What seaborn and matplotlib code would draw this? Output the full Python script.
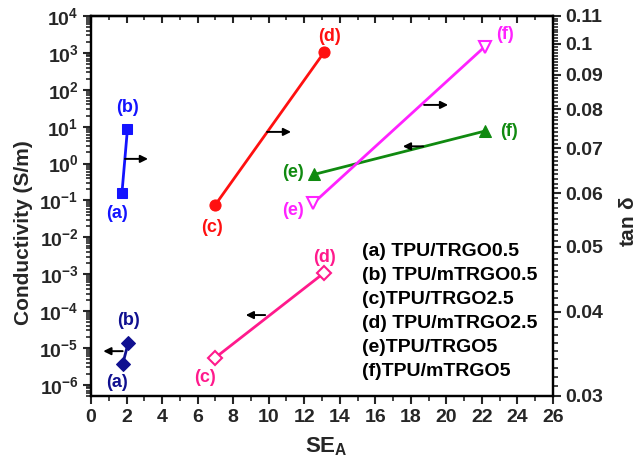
import numpy as np
import pandas as pd
import matplotlib
matplotlib.use("Agg")
import matplotlib.pyplot as plt
import matplotlib.ticker as mticker
import seaborn as sns

# ---------------- data ----------------
# tan delta series (right axis)
blue_x = [1.74, 2.05]            # (a),(b) TPU/TRGO0.5, TPU/mTRGO0.5
blue_tan = [0.0600, 0.0747]
red_x = [6.98, 13.11]            # (c),(d)
red_tan = [0.0576, 0.0971]
mag_x = [12.51, 22.17]           # (e),(f)
mag_tan = [0.0580, 0.0991]

# conductivity series (left axis)
navy_x = [1.78, 2.10]            # (a),(b)
navy_cond = [3.6e-6, 1.4e-5]
pink_x = [6.98, 13.13]           # (c),(d)
pink_cond = [5.4e-6, 1.1e-3]
green_x = [12.57, 22.17]         # (e),(f)
green_cond = [0.51, 7.6]

left_exponents = [-6, -5, -4, -3, -2, -1, 0, 1, 2, 3, 4]
right_ticks = [0.03, 0.04, 0.05, 0.06, 0.07, 0.08, 0.09, 0.10, 0.11]
right_ticklabels = ["0.03", "0.04", "0.05", "0.06", "0.07", "0.08", "0.09", "0.1", "0.11"]
x_ticks = list(range(0, 27, 2))
legend_lines = ["(a) TPU/TRGO0.5", "(b) TPU/mTRGO0.5", "(c)TPU/TRGO2.5",
                "(d) TPU/mTRGO2.5", "(e)TPU/TRGO5", "(f)TPU/mTRGO5"]

# ---------------- style ----------------
sns.set_theme(style="ticks")
plt.rcParams["font.family"] = ["Liberation Sans", "DejaVu Sans"]
plt.rcParams["font.weight"] = "bold"
plt.rcParams["mathtext.fontset"] = "custom"
plt.rcParams["mathtext.rm"] = "Liberation Sans:bold"
plt.rcParams["mathtext.bf"] = "Liberation Sans:bold"
plt.rcParams["mathtext.it"] = "Liberation Sans:bold:italic"
plt.rcParams["mathtext.default"] = "bf"

BLUE = "#1414ff"
RED = "#ff1010"
MAG = "#ff22ff"
GREEN = "#108a10"
PINK = "#ff1a8c"
NAVY = "#101090"

fig = plt.figure(figsize=(6.41, 4.72), dpi=100)
ax = fig.add_axes([91/641, 1-396/472, (553-91)/641, (396-16)/472])
ax2 = ax.twinx()

# left axis (conductivity)
sns.lineplot(x=navy_x, y=navy_cond, ax=ax, color=NAVY, lw=2, marker="D", markersize=7,
             markerfacecolor=NAVY, markeredgecolor=NAVY)
sns.lineplot(x=pink_x, y=pink_cond, ax=ax, color=PINK, lw=2, marker="D", markersize=7,
             markerfacecolor="white", markeredgecolor=PINK, markeredgewidth=1.5)
sns.lineplot(x=green_x, y=green_cond, ax=ax, color=GREEN, lw=2, marker="^", markersize=8,
             markerfacecolor=GREEN, markeredgecolor=GREEN)
ax.set_yscale("log")
ax.set_ylim(5e-7, 1e4)
ax.set_xlim(0, 26)

# right axis (tan delta)
sns.lineplot(x=blue_x, y=blue_tan, ax=ax2, color=BLUE, lw=2, marker="s", markersize=7,
             markerfacecolor=BLUE, markeredgecolor=BLUE)
sns.lineplot(x=red_x, y=red_tan, ax=ax2, color=RED, lw=2, marker="o", markersize=8,
             markerfacecolor=RED, markeredgecolor=RED)
sns.lineplot(x=mag_x, y=mag_tan, ax=ax2, color=MAG, lw=2, marker="v", markersize=8,
             markerfacecolor="white", markeredgecolor=MAG, markeredgewidth=1.5)
ax2.set_yscale("log")
ax2.set_ylim(0.03, 0.11)
ax2.set_xlim(0, 26)

# ticks
ax.set_yticks([10.0**e for e in left_exponents])
ax.set_yticklabels([r"$10^{%d}$" % e for e in left_exponents])
ax.yaxis.set_minor_locator(mticker.LogLocator(base=10, subs=np.arange(2, 10), numticks=50))
ax.yaxis.set_minor_formatter(mticker.NullFormatter())
ax.set_xticks(x_ticks)
ax.set_xticklabels([str(t) for t in x_ticks])
ax.xaxis.set_minor_locator(mticker.MultipleLocator(1))
ax.tick_params(axis="both", which="major", direction="out", length=6, width=1.5,
               labelsize=14, pad=3)
ax.tick_params(axis="both", which="minor", direction="out", length=3.5, width=1.2)
ax.tick_params(axis="x", top=False)

ax2.set_yticks(right_ticks)
ax2.set_yticklabels(right_ticklabels)
ax2.yaxis.set_minor_locator(mticker.FixedLocator(np.arange(0.031, 0.1105, 0.001)))
ax2.yaxis.set_minor_formatter(mticker.NullFormatter())
ax2.tick_params(axis="y", which="major", direction="out", length=6, width=1.5,
                labelsize=14, pad=3)
ax2.tick_params(axis="y", which="minor", direction="out", length=3.5, width=1.2)

# top ticks pointing inwards
sec = ax.secondary_xaxis("top")
sec.set_xticks(x_ticks)
sec.xaxis.set_minor_locator(mticker.MultipleLocator(1))
sec.tick_params(axis="x", which="major", direction="in", length=5, width=1.5, labeltop=False)
sec.tick_params(axis="x", which="minor", direction="in", length=3, width=1.2)

for a in (ax, ax2):
    for s in a.spines.values():
        s.set_linewidth(1.6)
        s.set_color("black")
sec.spines["top"].set_linewidth(1.6)

ax.set_ylabel("Conductivity (S/m)", fontsize=15, fontweight="bold")
ax.yaxis.set_label_coords(-0.126, 0.43)
ax.set_xlabel(r"SE$_\mathbf{A}$", fontsize=16, fontweight="bold")
ax.xaxis.set_label_coords(0.51, -0.103)
ax2.set_ylabel(r"tan $\delta$", fontsize=15, fontweight="bold", rotation=90)
ax2.yaxis.set_label_coords(1.143, 0.458)

# point labels
def lab(a, x, y, txt, dx, dy, color):
    a.annotate(txt, (x, y), xytext=(dx, dy), textcoords="offset pixels",
               ha="center", va="center", color=color, fontsize=13, fontweight="bold")

lab(ax2, blue_x[0], blue_tan[0], "(a)", -5, -20, BLUE)
lab(ax2, blue_x[1], blue_tan[1], "(b)", 0, 22, BLUE)
lab(ax2, red_x[0], red_tan[0], "(c)", -3, -22, RED)
lab(ax2, red_x[1], red_tan[1], "(d)", 6, 16, RED)
lab(ax2, mag_x[0], mag_tan[0], "(e)", -20, -7, MAG)
lab(ax2, mag_x[1], mag_tan[1], "(f)", 20, 12, MAG)
lab(ax, green_x[0], green_cond[0], "(e)", -21, 2, GREEN)
lab(ax, green_x[1], green_cond[1], "(f)", 24, 0, GREEN)
lab(ax, pink_x[0], pink_cond[0], "(c)", -10, -20, PINK)
lab(ax, pink_x[1], pink_cond[1], "(d)", 0, 15, PINK)
lab(ax, navy_x[0], navy_cond[0], "(a)", -6, -18, NAVY)
lab(ax, navy_x[1], navy_cond[1], "(b)", 0, 22, NAVY)

# direction arrows (axes fraction)
arrows = [((0.0736, 0.624), (0.1234, 0.624)),
          ((0.381, 0.695), (0.433, 0.695)),
          ((0.721, 0.766), (0.773, 0.766)),
          ((0.719, 0.657), (0.675, 0.657)),
          ((0.377, 0.213), (0.335, 0.213)),
          ((0.0686, 0.118), (0.0266, 0.118))]
for tail, head in arrows:
    ax2.annotate("", xy=head, xytext=tail, xycoords="axes fraction",
                 textcoords="axes fraction",
                 arrowprops=dict(arrowstyle="-|>", color="black", lw=1.4,
                                 mutation_scale=11, shrinkA=0, shrinkB=0))

# legend-like text block
ys = [252, 275, 300, 323, 348, 372]
for line, ypx in zip(legend_lines, ys):
    ax2.text((362-91)/462, (396-ypx)/380, line, transform=ax2.transAxes,
             ha="left", va="center", fontsize=14, fontweight="bold", color="black")

fig.savefig("out.png", dpi=100, facecolor="white")
